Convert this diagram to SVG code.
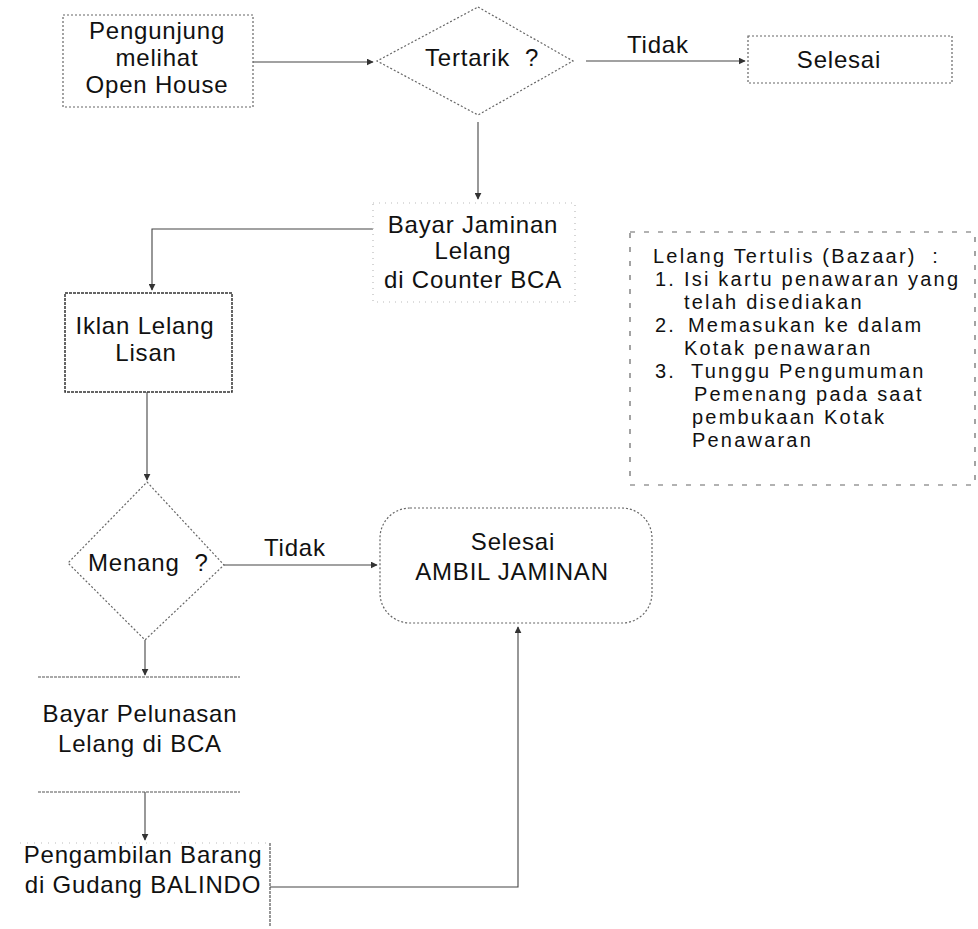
<svg xmlns="http://www.w3.org/2000/svg" width="978" height="929" viewBox="0 0 978 929">
<style>
text{font-family:"Liberation Sans",Arial,sans-serif;font-size:24px;fill:#111;letter-spacing:0.8px;}
.c{text-anchor:middle;}
.b{font-size:20px;letter-spacing:2.2px;}
.shape{fill:none;stroke:#666;stroke-width:1.2;stroke-dasharray:2 2;}
.solid{fill:none;stroke:#333;stroke-width:1.5;}
.dash{fill:none;stroke:#666;stroke-width:1.2;stroke-dasharray:5 9;}
.conn{fill:none;stroke:#444;stroke-width:1.1;marker-end:url(#arr);}
.line{fill:none;stroke:#444;stroke-width:1.1;}
</style>
<defs>
<marker id="arr" viewBox="0 0 10 10" refX="9" refY="5" markerWidth="7" markerHeight="7" orient="auto" markerUnits="userSpaceOnUse">
<path d="M0,0 L10,5 L0,10 z" fill="#333"/>
</marker>
</defs>
<rect width="978" height="929" fill="#fff"/>

<g id="connectors">
<path class="conn" d="M253,62 L373,62"/>
<path class="conn" d="M478,122 L478,199"/>
<path class="conn" d="M586,61 L745,61"/>
<path class="conn" d="M373,229 L152,229 L152,290"/>
<path class="conn" d="M147,392 L147,480"/>
<path class="conn" d="M224,565 L377,565"/>
<path class="conn" d="M145,640 L145,675"/>
<path class="conn" d="M145,792 L145,840"/>
<path class="conn" d="M270,887 L518,887 L518,627"/>
<text x="627" y="53">Tidak</text>
<text x="264" y="556">Tidak</text>
</g>

<g id="node-pengunjung">
<rect class="shape" x="63" y="15" width="190" height="92"/>
<text class="c" x="157" y="39">Pengunjung</text>
<text class="c" x="157" y="66">melihat</text>
<text class="c" x="157" y="93">Open House</text>
</g>

<g id="node-tertarik">
<polygon class="shape" points="478,7 573,61 478,115 377,61"/>
<text x="425" y="66" xml:space="preserve">Tertarik  ?</text>
</g>

<g id="node-selesai1">
<rect class="shape" x="748" y="36" width="204" height="47"/>
<text class="c" x="839" y="68">Selesai</text>
</g>

<g id="node-bayar-jaminan">
<rect class="shape" x="373" y="203" width="202" height="99" style="stroke:#bbb;stroke-dasharray:1 5"/>
<text class="c" x="473" y="233">Bayar Jaminan</text>
<text class="c" x="473" y="259">Lelang</text>
<text class="c" x="473" y="288">di Counter BCA</text>
</g>

<g id="node-bazaar">
<rect class="dash" x="630" y="232" width="345" height="253"/>
<text class="b" x="653" y="263" xml:space="preserve">Lelang Tertulis (Bazaar)  :</text>
<text class="b" x="655" y="286">1.</text>
<text class="b" x="684" y="286">Isi kartu penawaran yang</text>
<text class="b" x="684" y="309">telah disediakan</text>
<text class="b" x="655" y="332">2.</text>
<text class="b" x="688" y="332">Memasukan ke dalam</text>
<text class="b" x="684" y="355">Kotak penawaran</text>
<text class="b" x="655" y="378">3.</text>
<text class="b" x="691" y="378">Tunggu Pengumuman</text>
<text class="b" x="694" y="401">Pemenang pada saat</text>
<text class="b" x="692" y="424">pembukaan Kotak</text>
<text class="b" x="692" y="447">Penawaran</text>
</g>

<g id="node-iklan">
<rect class="solid" x="65" y="293" width="167" height="99" style="stroke-dasharray:3 1"/>
<text class="c" x="145" y="334">Iklan Lelang</text>
<text class="c" x="146" y="361">Lisan</text>
</g>

<g id="node-menang">
<polygon class="shape" points="147,482 224,565 145,640 68,563"/>
<text x="88" y="571" xml:space="preserve">Menang  ?</text>
</g>

<g id="node-selesai-ambil">
<rect class="shape" x="380" y="508" width="272" height="115" rx="30" ry="30"/>
<text class="c" x="513" y="550">Selesai</text>
<text class="c" x="512" y="580">AMBIL JAMINAN</text>
</g>

<g id="node-pelunasan">
<path class="line" d="M38,677 L240,677 M38,792 L240,792" style="stroke:#555;stroke-dasharray:3 1"/>
<text class="c" x="140" y="722">Bayar Pelunasan</text>
<text class="c" x="140" y="752">Lelang di BCA</text>
</g>

<g id="node-pengambilan">
<path class="line" d="M20,843 L270,843" style="stroke:#bbb;stroke-dasharray:1 6"/>
<path class="line" d="M270,843 L270,927" style="stroke:#444;stroke-dasharray:3 1"/>
<text class="c" x="143" y="863">Pengambilan Barang</text>
<text class="c" x="143" y="893">di Gudang BALINDO</text>
</g>
</svg>
